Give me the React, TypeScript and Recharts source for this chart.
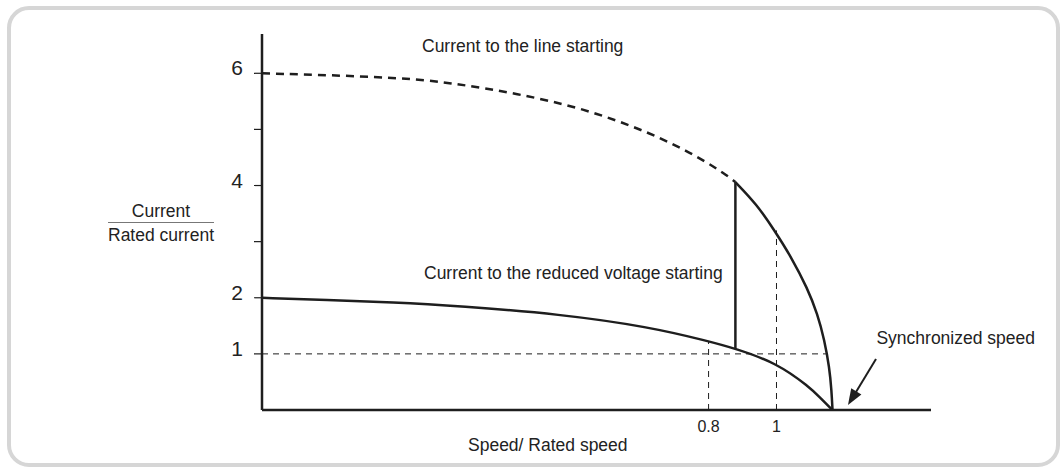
import React from 'react';
import { LineChart, Line, XAxis, YAxis, ReferenceLine } from 'recharts';

// Direct-on-line starting current (dashed part, before the switch-over)
const lineStartDashed = [
  { x: -0.515, y: 6.0 },
  { x: -0.109, y: 5.93 },
  { x: 0.053, y: 5.82 },
  { x: 0.235, y: 5.64 },
  { x: 0.429, y: 5.38 },
  { x: 0.626, y: 4.95 },
  { x: 0.774, y: 4.5 },
  { x: 0.862, y: 4.15 },
  { x: 0.879, y: 4.06 },
];

// Direct-on-line current after switch-over (solid)
const lineStartSolid = [
  { x: 0.879, y: 4.06 },
  { x: 0.941, y: 3.67 },
  { x: 0.994, y: 3.2 },
  { x: 1.044, y: 2.72 },
  { x: 1.091, y: 2.17 },
  { x: 1.121, y: 1.71 },
  { x: 1.141, y: 1.25 },
  { x: 1.156, y: 0.75 },
  { x: 1.162, y: 0.35 },
  { x: 1.165, y: 0 },
];

// Reduced voltage starting current
const reducedStart = [
  { x: -0.515, y: 2.0 },
  { x: -0.324, y: 1.96 },
  { x: -0.129, y: 1.92 },
  { x: 0.068, y: 1.85 },
  { x: 0.362, y: 1.71 },
  { x: 0.626, y: 1.48 },
  { x: 0.797, y: 1.23 },
  { x: 0.879, y: 1.095 },
  { x: 1.0, y: 0.84 },
  { x: 1.097, y: 0.41 },
  { x: 1.13, y: 0.21 },
  { x: 1.165, y: 0 },
];

// Jump of current at the switch-over
const switchOver = [
  { x: 0.879, y: 1.095 },
  { x: 0.879, y: 4.06 },
];

const xDomain = [-0.515, 1.455];
const xTicks = [0.8, 1];
const yDomain = [0, 6.7];
const yTicks = [1, 2, 3, 4, 5, 6];
const yTickLabels = ['1', '2', '', '4', '', '6'];

const ink = '#1e1e1e';
const font = '"Liberation Sans", Arial, Helvetica, sans-serif';

const YTick = (props: any) => {
  const { x, y, payload } = props;
  const i = yTicks.indexOf(payload.value);
  return (
    <text x={x} y={y + 2} textAnchor="end" fontSize={21} fill="#222" fontFamily={font}>
      {yTickLabels[i]}
    </text>
  );
};

const XTick = (props: any) => {
  const { x, y, payload } = props;
  return (
    <text x={x} y={y + 14} textAnchor="middle" fontSize={16} fill="#222" fontFamily={font}>
      {payload.value}
    </text>
  );
};

const textStyle: React.CSSProperties = {
  position: 'absolute',
  fontFamily: font,
  fontSize: 17.5,
  color: '#222',
  whiteSpace: 'nowrap',
  lineHeight: '17.5px',
};

export default function App() {
  return (
    <div style={{ position: 'absolute', left: 0, top: 0, width: 1064, height: 473, background: '#fff' }}>
      <div
        style={{
          position: 'absolute',
          left: 7,
          top: 6,
          width: 1053,
          height: 461,
          boxSizing: 'border-box',
          border: '4px solid #d6d6d6',
          borderRadius: 22,
        }}
      />
      <div style={{ position: 'absolute', left: 0, top: 0 }}>
        <LineChart width={1064} height={473} margin={{ top: 34, right: 133, bottom: 33, left: 202 }}>
          <XAxis
            type="number"
            dataKey="x"
            domain={xDomain}
            ticks={xTicks}
            allowDataOverflow
            height={30}
            axisLine={{ stroke: ink, strokeWidth: 2.5 }}
            tickLine={false}
            tick={<XTick />}
          />
          <YAxis
            type="number"
            dataKey="y"
            domain={yDomain}
            ticks={yTicks}
            allowDataOverflow
            width={60}
            axisLine={{ stroke: ink, strokeWidth: 2.5 }}
            tickLine={{ stroke: ink, strokeWidth: 1.2 }}
            tickSize={8}
            tickMargin={11}
            tick={<YTick />}
          />
          <ReferenceLine
            segment={[{ x: -0.515, y: 1 }, { x: 1.147, y: 1 }]}
            stroke={ink}
            strokeWidth={1}
            strokeDasharray="6 5"
          />
          <ReferenceLine
            segment={[{ x: 0.8, y: 0 }, { x: 0.8, y: 1.23 }]}
            stroke={ink}
            strokeWidth={1}
            strokeDasharray="6 5"
          />
          <ReferenceLine
            segment={[{ x: 1, y: 0 }, { x: 1, y: 3.2 }]}
            stroke={ink}
            strokeWidth={1}
            strokeDasharray="6 5"
          />
          <Line
            data={lineStartDashed}
            dataKey="y"
            type="basis"
            stroke={ink}
            strokeWidth={2.5}
            strokeDasharray="8 6"
            dot={false}
            isAnimationActive={false}
          />
          <Line
            data={lineStartSolid}
            dataKey="y"
            type="basis"
            stroke={ink}
            strokeWidth={2.5}
            dot={false}
            isAnimationActive={false}
          />
          <Line
            data={reducedStart}
            dataKey="y"
            type="basis"
            stroke={ink}
            strokeWidth={2.5}
            dot={false}
            isAnimationActive={false}
          />
          <Line
            data={switchOver}
            dataKey="y"
            type="linear"
            stroke={ink}
            strokeWidth={2.5}
            dot={false}
            isAnimationActive={false}
          />
        </LineChart>
      </div>

      <div style={{ ...textStyle, left: 422, top: 38 }}>Current to the line starting</div>
      <div style={{ ...textStyle, left: 424, top: 265 }}>Current to the reduced voltage starting</div>
      <div style={{ ...textStyle, right: 29, top: 330 }}>Synchronized speed</div>
      <div style={{ ...textStyle, left: 468, top: 437 }}>Speed/ Rated speed</div>

      <div style={{ ...textStyle, left: 108, width: 106, top: 203, textAlign: 'center' }}>Current</div>
      <div style={{ position: 'absolute', left: 108, width: 106, top: 222, height: 0, borderTop: '1.5px solid #777' }} />
      <div style={{ ...textStyle, left: 108, width: 106, top: 227, textAlign: 'center' }}>Rated current</div>

      <svg style={{ position: 'absolute', left: 0, top: 0 }} width={1064} height={473}>
        <line x1={876} y1={359} x2={856} y2={392} stroke={ink} strokeWidth={2} />
        <polygon points="848,405 861.4,394.5 851.2,388.3" fill={ink} />
      </svg>
    </div>
  );
}
